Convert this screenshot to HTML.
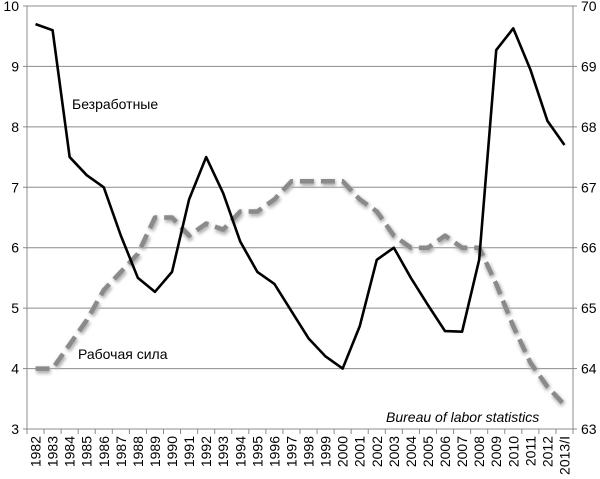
<!DOCTYPE html>
<html><head><meta charset="utf-8"><style>
body{margin:0;background:#fff;}
svg{display:block;font-family:"Liberation Sans","DejaVu Sans",sans-serif;}
</style></head><body>
<svg id="chart" width="600" height="479" viewBox="0 0 600 479">
<defs><filter id="blur" x="-5%" y="-5%" width="110%" height="110%"><feGaussianBlur stdDeviation="1.6"/></filter></defs>
<g id="grid"></g>
<g id="axes"></g>
<g id="series"></g>
<text x="72" y="109" font-size="14" fill="#000">Безработные</text>
<text x="78" y="359" font-size="14" fill="#000">Рабочая сила</text>
<text x="386" y="422" font-size="14" font-style="italic" fill="#000">Bureau of labor statistics</text>
</svg>
<script>
const categories=["1982","1983","1984","1985","1986","1987","1988","1989","1990","1991","1992","1993","1994","1995","1996","1997","1998","1999","2000","2001","2002","2003","2004","2005","2006","2007","2008","2009","2010","2011","2012","2013/I"];
const unemployment=[9.7,9.6,7.5,7.2,7.0,6.2,5.5,5.27,5.6,6.8,7.5,6.9,6.1,5.6,5.4,4.95,4.5,4.2,4.0,4.7,5.8,6.0,5.5,5.05,4.62,4.61,5.8,9.27,9.63,8.95,8.1,7.7];
const laborForce=[64.0,64.0,64.4,64.8,65.3,65.6,65.9,66.5,66.5,66.2,66.4,66.3,66.6,66.6,66.8,67.1,67.1,67.1,67.1,66.8,66.6,66.2,66.0,66.0,66.2,66.0,66.0,65.4,64.7,64.1,63.7,63.4];
const leftTicks=[3,4,5,6,7,8,9,10];
const rightTicks=[63,64,65,66,67,68,69,70];

const NS="http://www.w3.org/2000/svg";
const X0=27,X1=573,Y0=429,Y1=6;
const step=(X1-X0)/categories.length;
const xs=i=>X0+step*(i+0.5);
const yL=v=>Y0-(v-3)/7*(Y0-Y1);
const yR=v=>Y0-(v-63)/7*(Y0-Y1);
function mk(tag,attrs,parent){const e=document.createElementNS(NS,tag);for(const k in attrs)e.setAttribute(k,attrs[k]);parent.appendChild(e);return e;}
const grid=document.getElementById('grid'),axes=document.getElementById('axes'),series=document.getElementById('series');

leftTicks.forEach(t=>{
  if(t>3){const g=mk('line',{x1:X0,x2:X1,y1:yL(t),y2:yL(t),stroke:'#8c8c8c','stroke-width':1},grid);
  
  }
  mk('line',{x1:X0-4,x2:X0,y1:yL(t),y2:yL(t),stroke:'#8c8c8c'},axes);
  const tx=mk('text',{x:X0-8,y:yL(t)+5,'text-anchor':'end','font-size':14},axes);tx.textContent=t;
  
  
});
rightTicks.forEach(t=>{
  mk('line',{x1:X1,x2:X1+4,y1:yR(t),y2:yR(t),stroke:'#8c8c8c'},axes);
  const tx=mk('text',{x:X1+8,y:yR(t)+5,'font-size':14},axes);tx.textContent=t;
  
  
});
mk('line',{x1:X0,x2:X0,y1:Y1,y2:Y0,stroke:'#8c8c8c'},axes);
mk('line',{x1:X1,x2:X1,y1:Y1,y2:Y0,stroke:'#8c8c8c'},axes);
mk('line',{x1:X0,x2:X1,y1:Y0,y2:Y0,stroke:'#8c8c8c'},axes);
for(let i=0;i<=categories.length;i++)mk('line',{x1:X0+step*i,x2:X0+step*i,y1:Y0,y2:Y0+5,stroke:'#8c8c8c'},axes);
categories.forEach((c,i)=>{
  const tx=mk('text',{transform:`translate(${xs(i)+5},${Y0+7}) rotate(-90)`,'text-anchor':'end','font-size':14},axes);
  tx.textContent=c;
  
  
});

const lp=laborForce.map((v,i)=>xs(i)+','+yR(v)).join(' ');
mk('polyline',{points:lp,fill:'none',stroke:'#b0b0b0','stroke-width':6,'stroke-dasharray':'14 7',filter:'url(#blur)',transform:'translate(1,2)'},series);
const lf=mk('polyline',{points:lp,fill:'none',stroke:'#8a8a8a','stroke-width':4.5,'stroke-dasharray':'14 7','stroke-linejoin':'round'},series);


const up=unemployment.map((v,i)=>xs(i)+','+yL(v)).join(' ');
const ul=mk('polyline',{points:up,fill:'none',stroke:'#000','stroke-width':2.6,'stroke-linejoin':'round'},series);


</script>
</body></html>
